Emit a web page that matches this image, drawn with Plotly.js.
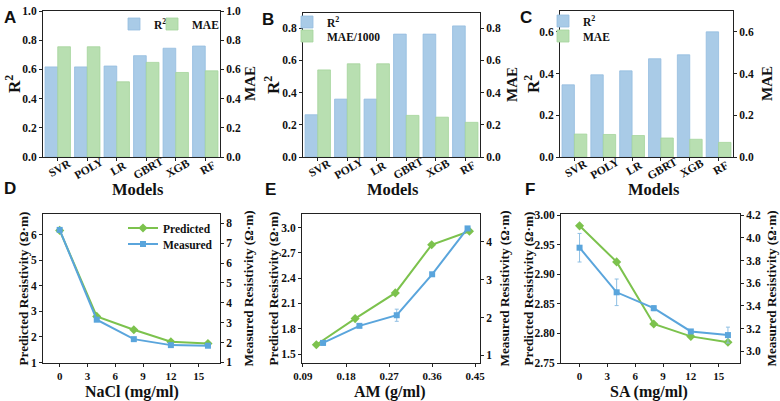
<!DOCTYPE html>
<html>
<head>
<meta charset="utf-8">
<script src="https://cdn.plot.ly/plotly-3.0.1.min.js"></script>
<style>html,body{margin:0;padding:0;background:#fff;}#chart{width:780px;height:401px;}</style>
</head>
<body>
<div id="chart"></div>
<script>
// ---------- DATA ----------
const models = ['SVR', 'POLY', 'LR', 'GBRT', 'XGB', 'RF'];
const r2A  = [0.617, 0.617, 0.623, 0.694, 0.745, 0.760];
const maeA = [0.755, 0.755, 0.515, 0.648, 0.579, 0.590];
const r2B  = [0.262, 0.359, 0.359, 0.762, 0.762, 0.813];
const maeB = [0.540, 0.578, 0.578, 0.258, 0.247, 0.215];
const r2C  = [0.346, 0.394, 0.413, 0.471, 0.490, 0.600];
const maeC = [0.110, 0.108, 0.103, 0.091, 0.085, 0.070];

const naclX   = [0, 4, 8, 12, 16];
const predD   = [6.16, 2.80, 2.28, 1.81, 1.74];
const measD   = [7.67, 3.15, 2.17, 1.87, 1.84];
const measDer = [0.05, 0.08, 0.04, 0.04, 0.04];

const amPredX = [0.118, 0.199, 0.283, 0.359, 0.438];
const predE   = [1.61, 1.92, 2.225, 2.795, 2.955];
const amMeasX = [0.132, 0.208, 0.286, 0.360, 0.434];
const measE   = [1.33, 1.78, 2.06, 3.14, 4.35];
const measEer = [0.06, 0.03, 0.16, 0.04, 0.05];

const saX     = [0, 4, 8, 12, 16];
const predF   = [2.982, 2.921, 2.816, 2.795, 2.785];
const measF   = [3.913, 3.52, 3.38, 3.175, 3.143];
const measFer = [0.126, 0.117, 0.022, 0.012, 0.07];

// text labels
const xTitles = ['Models', 'Models', 'Models', 'NaCl (mg/ml)', 'AM (g/ml)', 'SA (mg/ml)'];
const yLeftTitles = ['R<sup>2</sup>', 'R<sup>2</sup>', 'R<sup>2</sup>',
  'Predicted Resistivity (Ω·m)', 'Predicted Resistivity (Ω·m)', 'Predicted Resistivity (Ω·m)'];
const yRightTitles = ['MAE', 'MAE', 'MAE',
  'Measured Resistivity (Ω·m)', 'Measured Resistivity (Ω·m)', 'Measured Resistivity (Ω·m)'];
const panelLetters = ['A', 'B', 'C', 'D', 'E', 'F'];

// ---------- STYLE ----------
const serif = 'Liberation Serif, Times New Roman, serif';
const tickFont = {family: serif, size: 11.5, color: '#111', weight: 'bold'};
const lineXTickFont = {family: serif, size: 11, color: '#111', weight: 'bold'};
const barTickFont = {family: serif, size: 11.5, color: '#111', weight: 'bold'};
const titleFont = {family: serif, size: 16.5, color: '#111', weight: 'bold'};
const lowTitleFont = {family: serif, size: 16, color: '#111', weight: 'bold'};
const r2Font = {family: serif, size: 17, color: '#111', weight: 'bold'};
const maeFont = {family: serif, size: 15, color: '#111', weight: 'bold'};
const sideTitleFont = {family: serif, size: 13.2, color: '#111', weight: 'bold'};
const legFont = {family: serif, size: 11.5, color: '#111', weight: 'bold'};
const blueBar = '#a9cbe7', greenBar = '#b8dfb1';
const blueLine = '#5aa5dc', greenLine = '#7cc24d';

const W = 780, H = 401;
const px = (a, b) => [a / W, b / W];
const py = (top, bot) => [1 - bot / H, 1 - top / H];

const panels = [
  {xd: px(43, 220),  yd: py(11, 157)},
  {xd: px(303, 480), yd: py(13, 157)},
  {xd: px(560, 733), yd: py(11, 157)},
  {xd: px(43, 220),  yd: py(214, 363)},
  {xd: px(302, 480), yd: py(214, 363)},
  {xd: px(561, 740), yd: py(214, 363)}
];
// title placements (pixel centres)
const xTitlePos = [[138, 189], [393, 189], [654, 189], [132, 391.5], [390, 391.5], [649, 391.5]];
const yLeftX  = [13, 272, 532, 23, 273, 528];
const yRightX = [250, 512, 767, 248, 504, 771];
const letterPos = [[10, 17], [268, 19], [526, 17], [10, 188], [270, 189], [530, 189]];
const barLabelY = 168;

const xs = i => 'x' + (i === 0 ? '' : i + 1);
const yl = i => 'y' + (2 * i + 1 === 1 ? '' : 2 * i + 1);
const yr = i => 'y' + (2 * i + 2);

const common = {
  showline: true, linecolor: '#222', linewidth: 1,
  ticks: 'outside', ticklen: 3, tickwidth: 1, tickcolor: '#222',
  showgrid: false, zeroline: false, tickfont: tickFont
};
function xAxis(i, extra) {
  return Object.assign({}, common, {domain: panels[i].xd, anchor: yl(i), mirror: true}, extra || {});
}
function yLeft(i, extra) {
  return Object.assign({}, common, {domain: panels[i].yd, anchor: xs(i)}, extra || {});
}
function yRight(i, extra) {
  return Object.assign({}, common, {overlaying: yl(i), side: 'right', anchor: xs(i)}, extra || {});
}

const traces = [];
function bars(i, r2, mae, maeName, legR, legM) {
  traces.push({type: 'bar', x: models, y: r2, name: 'R<sup>2</sup>', xaxis: xs(i), yaxis: yl(i),
    offsetgroup: 'a', marker: {color: blueBar, line: {color: '#94bddf', width: 0.8}},
    legend: legR, showlegend: true});
  traces.push({type: 'bar', x: models, y: mae, name: maeName, xaxis: xs(i), yaxis: yr(i),
    offsetgroup: 'b', marker: {color: greenBar, line: {color: '#a4d49c', width: 0.8}},
    legend: legM, showlegend: true});
}
bars(0, r2A, maeA, 'MAE', 'legend', 'legend2');
bars(1, r2B, maeB, 'MAE/1000', 'legend3', 'legend4');
bars(2, r2C, maeC, 'MAE', 'legend5', 'legend6');

function lines(i, xp, yp, xm, ym, err, show) {
  traces.push({type: 'scatter', mode: 'lines+markers', x: xp, y: yp, name: 'Predicted',
    xaxis: xs(i), yaxis: yl(i), line: {color: greenLine, width: 2},
    marker: {symbol: 'diamond', size: 7, color: greenLine}, legend: 'legend7', showlegend: show});
  traces.push({type: 'scatter', mode: 'lines+markers', x: xm, y: ym, name: 'Measured',
    xaxis: xs(i), yaxis: yr(i), line: {color: blueLine, width: 2},
    marker: {symbol: 'square', size: 6, color: blueLine},
    error_y: {type: 'data', array: err, visible: true, color: '#8fbfe3', thickness: 1, width: 2},
    legend: 'legend8', showlegend: show});
}
lines(3, naclX, predD, naclX, measD, measDer, true);
lines(4, amPredX, predE, amMeasX, measE, measEer, false);
lines(5, saX, predF, saX, measF, measFer, false);

const barX = {range: [-0.5, 5.5], showticklabels: false};
const legBase = {bgcolor: 'rgba(0,0,0,0)', font: legFont, itemwidth: 30, tracegroupgap: 0,
                 xanchor: 'left', yanchor: 'middle', visible: true};
const leg = (x, y) => Object.assign({}, legBase, {x: x / W, y: 1 - y / H});

const ann = [];
panelLetters.forEach((t, i) => ann.push({text: t, x: letterPos[i][0] / W, y: 1 - letterPos[i][1] / H,
  xref: 'paper', yref: 'paper', showarrow: false, xanchor: 'center', yanchor: 'middle',
  font: {family: 'Liberation Sans, Arial, sans-serif', size: 17, weight: 'bold', color: '#111'}}));
xTitles.forEach((t, i) => ann.push({text: t, x: xTitlePos[i][0] / W, y: 1 - xTitlePos[i][1] / H,
  xref: 'paper', yref: 'paper', showarrow: false, xanchor: 'center', yanchor: 'middle',
  font: i < 3 ? titleFont : lowTitleFont}));
yLeftTitles.forEach((t, i) => {
  const d = panels[i].yd;
  ann.push({text: t, x: yLeftX[i] / W, y: (d[0] + d[1]) / 2, xref: 'paper', yref: 'paper',
    showarrow: false, xanchor: 'center', yanchor: 'middle', textangle: -90,
    font: i < 3 ? r2Font : sideTitleFont});
});
yRightTitles.forEach((t, i) => {
  const d = panels[i].yd;
  ann.push({text: t, x: yRightX[i] / W, y: (d[0] + d[1]) / 2, xref: 'paper', yref: 'paper',
    showarrow: false, xanchor: 'center', yanchor: 'middle', textangle: -90,
    font: i < 3 ? maeFont : sideTitleFont});
});
// rotated category labels of the bar panels, placed on each category through the x axis
[0, 1, 2].forEach(i => models.forEach(m => ann.push({text: m, x: m, xref: xs(i),
  y: 1 - barLabelY / H, yref: 'paper', showarrow: false, xanchor: 'center', yanchor: 'middle',
  textangle: -30, xshift: 2, font: barTickFont})));

const layout = {
  width: W, height: H, margin: {l: 0, r: 0, t: 0, b: 0},
  paper_bgcolor: '#fff', plot_bgcolor: '#fff', showlegend: true,
  barmode: 'group', bargap: 0.14, bargroupgap: 0,
  font: {family: serif, color: '#111'},
  xaxis:  xAxis(0, barX),
  xaxis2: xAxis(1, barX),
  xaxis3: xAxis(2, barX),
  xaxis4: xAxis(3, {range: [-1.8, 17.3], tickvals: [0, 3, 6, 9, 12, 15], tickfont: lineXTickFont}),
  xaxis5: xAxis(4, {range: [0.088, 0.46], tickvals: [0.09, 0.18, 0.27, 0.36, 0.45], tickfont: lineXTickFont}),
  xaxis6: xAxis(5, {range: [-2.0, 17.3], tickvals: [0, 3, 6, 9, 12, 15], tickfont: lineXTickFont}),
  yaxis:   yLeft(0, {range: [0, 1.0], dtick: 0.2, tickformat: '.1f'}),
  yaxis2:  yRight(0, {range: [0, 1.0], dtick: 0.2, tickformat: '.1f'}),
  yaxis3:  yLeft(1, {range: [0, 0.893], dtick: 0.2, tickformat: '.1f'}),
  yaxis4:  yRight(1, {range: [0, 0.893], dtick: 0.2, tickformat: '.1f'}),
  yaxis5:  yLeft(2, {range: [0, 0.7], dtick: 0.2, tickformat: '.1f'}),
  yaxis6:  yRight(2, {range: [0, 0.7], dtick: 0.2, tickformat: '.1f'}),
  yaxis7:  yLeft(3, {range: [0.98, 6.8], dtick: 1}),
  yaxis8:  yRight(3, {range: [0.97, 8.47], dtick: 1}),
  yaxis9:  yLeft(4, {range: [1.394, 3.16], tickvals: [1.5, 1.8, 2.1, 2.4, 2.7, 3.0], tickformat: '.1f'}),
  yaxis10: yRight(4, {range: [0.8, 4.73], dtick: 1}),
  yaxis11: yLeft(5, {range: [2.75, 3.002], dtick: 0.05, tickformat: '.2f'}),
  yaxis12: yRight(5, {range: [2.897, 4.21], dtick: 0.2, tickformat: '.1f'}),
  legend:  leg(114, 24),
  legend2: leg(152, 24),
  legend3: leg(287, 22),
  legend4: leg(287, 36),
  legend5: leg(543, 21),
  legend6: leg(543, 36),
  legend7: leg(123, 228),
  legend8: leg(123, 244),
  annotations: ann
};

Plotly.newPlot('chart', traces, layout, {displayModeBar: false, staticPlot: true});
</script>
</body>
</html>
